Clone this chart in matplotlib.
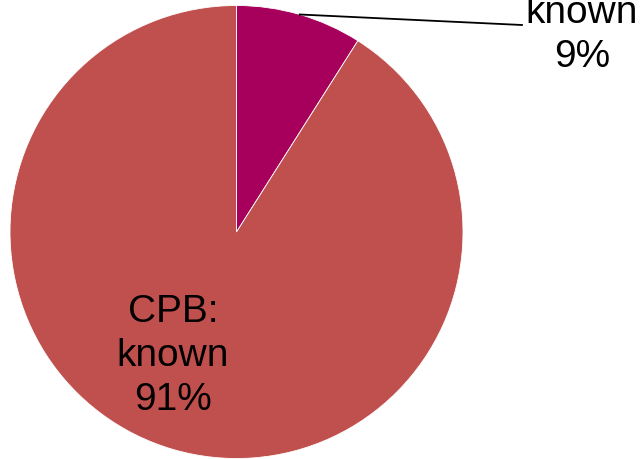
import numpy as np
import matplotlib
matplotlib.use("Agg")
import matplotlib.pyplot as plt

# Share of CPB cases by whether the cause is known
categories = ["CPB: un-\nknown", "CPB:\nknown"]
shares = [9, 91]
colors = ["#A6005C", "#C0504D"]

W, H = 644, 459
fig = plt.figure(figsize=(W / 100, H / 100), dpi=100)
ax = fig.add_axes([0, 0, 1, 1])

cx, cy, r = 236.5, 227.0, 226.5
wedges, _ = ax.pie(shares, colors=colors, startangle=90, counterclock=False,
                   center=(cx, cy), radius=r,
                   wedgeprops=dict(edgecolor="white", linewidth=0.6))

font = dict(family=["Liberation Sans", "DejaVu Sans"], fontsize=28,
            ha="center", va="center", linespacing=1.3)

# small slice: label outside with a leader line from the wedge's mid angle
w = wedges[0]
mid = np.deg2rad((w.theta1 + w.theta2) / 2)
x0, y0 = cx + r * np.cos(mid), cy + r * np.sin(mid)
ax.plot([x0, 522], [y0, H - 25], color="black", linewidth=1.3)
ax.text(582, H - 13, f"{categories[0]}\n{shares[0]}%", **font)

# large slice: label inside
ax.text(173, H - 356, f"{categories[1]}\n{shares[1]}%", **font)

ax.set_xlim(0, W)
ax.set_ylim(0, H)
ax.set_aspect("equal")
ax.axis("off")

fig.savefig("out.png", dpi=100)
